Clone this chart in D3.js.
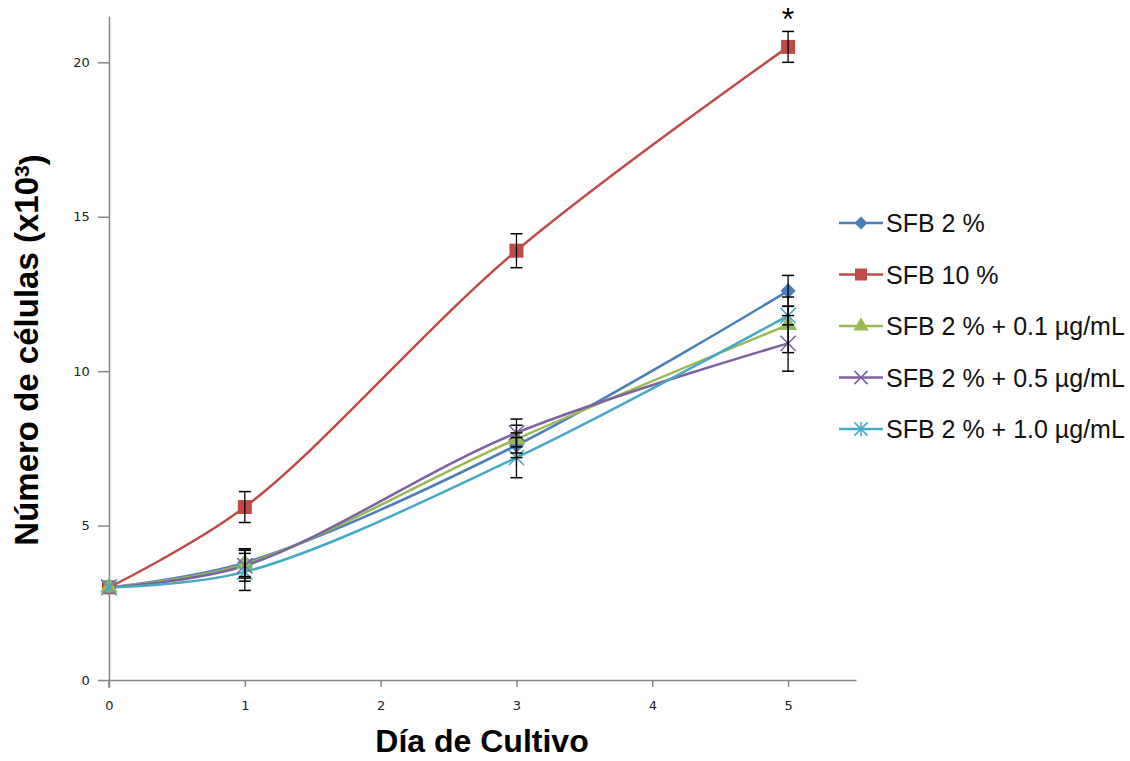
<!DOCTYPE html>
<html>
<head>
<meta charset="utf-8">
<script src="https://cdn.jsdelivr.net/npm/d3@7"></script>
<style>
	body { margin: 0; background: #fff; }
	svg { display: block; }
</style>
</head>
<body>
<div id="chart"></div>
<script>

// days measured
const days = [0, 1, 3, 5];

const seriesNames = [
	'SFB 2 %',
	'SFB 10 %',
	'SFB 2 % + 0.1 \u00b5g/mL',
	'SFB 2 % + 0.5 \u00b5g/mL',
	'SFB 2 % + 1.0 \u00b5g/mL'
];

// mean cell counts (x10^3)
const sfb2 = [3.0, 3.8, 7.6, 12.6];
const sfb10 = [3.0, 5.6, 13.9, 20.5];
const sfb2_01 = [3.0, 3.75, 7.8, 11.5];
const sfb2_05 = [3.0, 3.7, 8.0, 10.9];
const sfb2_10 = [3.0, 3.5, 7.2, 11.8];

// error (+/-)
const errSfb2 = [0, 0.45, 0.4, 0.5];
const errSfb10 = [0, 0.5, 0.55, 0.5];
const errSfb2_01 = [0, 0.45, 0.45, 0.9];
const errSfb2_05 = [0, 0.5, 0.45, 0.9];
const errSfb2_10 = [0, 0.6, 0.65, 0.3];

const yTicks = [0, 5, 10, 15, 20];
const xTicks = [0, 1, 2, 3, 4, 5];
const significant = [{ day: 5, value: 21.0, label: '*' }];

const series = [
	{ name: seriesNames[0], values: sfb2, err: errSfb2, color: '#4a7ebb', marker: 'diamond' },
	{ name: seriesNames[1], values: sfb10, err: errSfb10, color: '#be4b48', marker: 'square' },
	{ name: seriesNames[2], values: sfb2_01, err: errSfb2_01, color: '#98b954', marker: 'triangle' },
	{ name: seriesNames[3], values: sfb2_05, err: errSfb2_05, color: '#7d60a0', marker: 'cross' },
	{ name: seriesNames[4], values: sfb2_10, err: errSfb2_10, color: '#46aac5', marker: 'star' }
];

const width = 1130, height = 761;
const plot = { left: 109, top: 16, right: 856, bottom: 680 };

const svg = d3.select('#chart').append('svg')
	.attr('width', width)
	.attr('height', height);

const x = d3.scaleLinear().domain([0, 5.5]).range([plot.left, plot.right]);
const y = d3.scaleLinear().domain([0, 21.5]).range([plot.bottom, plot.top]);

//--------------------------------------------------------------
// Axes
//--------------------------------------------------------------
const axisColor = '#868686';

const gx = svg.append('g')
	.attr('transform', `translate(0,${plot.bottom})`)
	.call(d3.axisBottom(x).tickValues(xTicks).tickSize(7).tickSizeOuter(0).tickFormat(d3.format('d')));

const gy = svg.append('g')
	.attr('transform', `translate(${plot.left},0)`)
	.call(d3.axisLeft(y).tickValues(yTicks).tickSize(11).tickSizeOuter(0).tickFormat(d3.format('d')));

[gx, gy].forEach(g => {
	g.select('.domain').attr('stroke', axisColor).attr('stroke-width', 1.5);
	g.selectAll('.tick line').attr('stroke', axisColor).attr('stroke-width', 1.5);
	g.selectAll('.tick text')
		.attr('fill', '#222')
		.style('font-family', '"DejaVu Sans", Verdana, sans-serif')
		.style('font-size', '13px');
});
gx.selectAll('.tick text').attr('dy', '1.5em');
gy.selectAll('.tick text').attr('dx', '-0.4em');

// little extension of the y axis below the x axis
gy.append('line')
	.attr('x1', 0).attr('x2', 0)
	.attr('y1', plot.bottom).attr('y2', plot.bottom + 8)
	.attr('stroke', axisColor).attr('stroke-width', 1.5);

svg.append('text')
	.attr('x', 482)
	.attr('y', 752)
	.attr('text-anchor', 'middle')
	.style('font-family', '"Liberation Sans", Arial, sans-serif')
	.style('font-weight', 'bold')
	.style('font-size', '32px')
	.attr('fill', '#000')
	.text('Día de Cultivo');

const yTitle = svg.append('text')
	.attr('transform', `translate(38,350) rotate(-90)`)
	.attr('text-anchor', 'middle')
	.style('font-family', '"Liberation Sans", Arial, sans-serif')
	.style('font-weight', 'bold')
	.style('font-size', '33px')
	.attr('fill', '#000');
yTitle.append('tspan').text('Número de células (x10');
yTitle.append('tspan').attr('dy', '-0.45em').style('font-size', '21px').text('3');
yTitle.append('tspan').attr('dy', '0.45em').text(')');

//--------------------------------------------------------------
// Markers
//--------------------------------------------------------------
function drawMarker(g, type, color, size) {
	if (type === 'square') {
		g.append('rect')
			.attr('x', -size / 2).attr('y', -size / 2)
			.attr('width', size).attr('height', size)
			.attr('fill', color);
	} else if (type === 'diamond') {
		g.append('path')
			.attr('d', d3.symbol(d3.symbolDiamond2, size * size * 0.75)())
			.attr('fill', color);
	} else if (type === 'triangle') {
		g.append('path')
			.attr('d', d3.symbol(d3.symbolTriangle, size * size * 0.7)())
			.attr('fill', color);
	} else if (type === 'cross') {
		let s = size * 0.55;
		g.append('path')
			.attr('d', `M${-s},${-s}L${s},${s}M${-s},${s}L${s},${-s}`)
			.attr('stroke', color).attr('stroke-width', 1.5).attr('fill', 'none');
	} else if (type === 'star') {
		let s = size * 0.55;
		g.append('path')
			.attr('d', `M${-s},${-s}L${s},${s}M${-s},${s}L${s},${-s}M0,${-s * 1.1}L0,${s * 1.1}`)
			.attr('stroke', color).attr('stroke-width', 1.5).attr('fill', 'none');
	}
}

//--------------------------------------------------------------
// Lines, markers, error bars
//--------------------------------------------------------------
const line = d3.line()
	.x((d, i) => x(days[i]))
	.y(d => y(d))
	.curve(d3.curveCatmullRom.alpha(0.5));

const linesG = svg.append('g');
series.forEach(s => {
	linesG.append('path')
		.datum(s.values)
		.attr('d', line)
		.attr('fill', 'none')
		.attr('stroke', s.color)
		.attr('stroke-width', 2.5);
});

const markersG = svg.append('g');
series.forEach(s => {
	s.values.forEach((v, i) => {
		let g = markersG.append('g')
			.attr('transform', `translate(${x(days[i])},${y(v)})`);
		drawMarker(g, s.marker, s.color, 14);
	});
});

const errG = svg.append('g');
series.forEach(s => {
	s.values.forEach((v, i) => {
		if (!s.err[i]) return;
		let cx = x(days[i]);
		let y1 = y(v + s.err[i]), y2 = y(v - s.err[i]);
		errG.append('line')
			.attr('x1', cx).attr('x2', cx).attr('y1', y1).attr('y2', y2)
			.attr('stroke', '#000').attr('stroke-width', 1.3);
		[y1, y2].forEach(yy => {
			errG.append('line')
				.attr('x1', cx - 6).attr('x2', cx + 6).attr('y1', yy).attr('y2', yy)
				.attr('stroke', '#000').attr('stroke-width', 1.5);
		});
	});
});

svg.selectAll('.sig')
	.data(significant)
	.enter().append('text')
	.attr('class', 'sig')
	.attr('x', d => x(d.day))
	.attr('y', d => y(d.value) - 1)
	.attr('text-anchor', 'middle')
	.style('font-family', '"Liberation Sans", Arial, sans-serif')
	.style('font-size', '32px')
	.attr('fill', '#000')
	.text(d => d.label);

//--------------------------------------------------------------
// Legend
//--------------------------------------------------------------
const legend = svg.selectAll('.legend')
	.data(series)
	.enter().append('g')
	.attr('class', 'legend')
	.attr('transform', (d, i) => `translate(839,${223 + i * 51.5})`);

legend.append('line')
	.attr('x1', 0).attr('x2', 44)
	.attr('stroke', d => d.color)
	.attr('stroke-width', 2.5);

legend.each(function (d) {
	let g = d3.select(this).append('g').attr('transform', 'translate(22,0)');
	drawMarker(g, d.marker, d.color, 12);
});

legend.append('text')
	.attr('x', 47)
	.attr('dy', '0.36em')
	.style('font-family', '"Liberation Sans", Arial, sans-serif')
	.style('font-size', '25px')
	.attr('fill', '#111')
	.text(d => d.name);

</script>
</body>
</html>
